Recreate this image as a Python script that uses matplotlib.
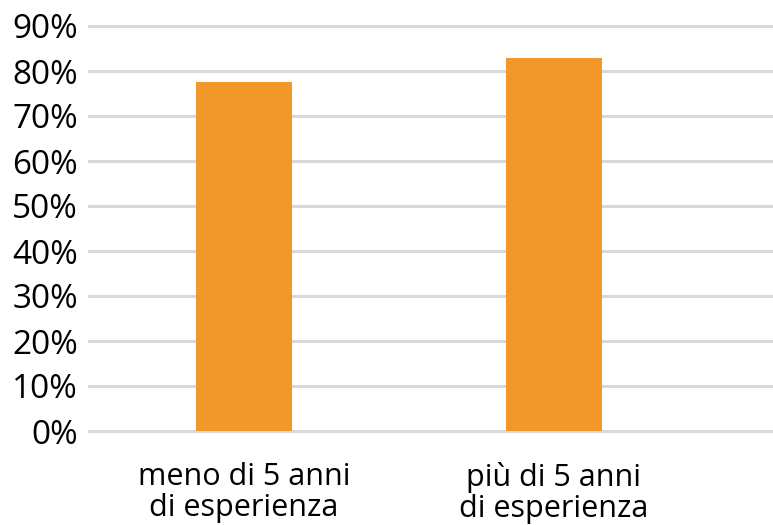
import matplotlib.pyplot as plt
from matplotlib.ticker import PercentFormatter

categories = ["meno di 5 anni\ndi esperienza", "più di 5 anni\ndi esperienza"]
values = [0.775, 0.83]
yticks = [0, 0.1, 0.2, 0.3, 0.4, 0.5, 0.6, 0.7, 0.8, 0.9]

plt.rcParams['font.family'] = ['Open Sans', 'DejaVu Sans']

fig = plt.figure(figsize=(7.73, 5.25), dpi=100)
ax = fig.add_axes([89 / 773, 94 / 525, 684 / 773, 405 / 525])

x = range(len(categories))
ax.bar(x, values, width=0.31, color='#f2982b', zorder=3)

ax.set_ylim(0, 0.9)
ax.set_xlim(-0.5, 1.708)
ax.set_yticks(yticks)
ax.yaxis.set_major_formatter(PercentFormatter(1.0, decimals=0))
ax.set_xticks(list(x))
ax.set_xticklabels(categories, linespacing=1.05)

ax.grid(axis='y', color='#d9d9d9', linewidth=2.2, zorder=0)
for line in ax.get_ygridlines():
    line.set_clip_on(False)
for s in ax.spines.values():
    s.set_visible(False)
ax.tick_params(axis='y', length=0, pad=8, labelsize=24)
ax.tick_params(axis='x', length=0, pad=22, labelsize=22)

fig.savefig('out.png', dpi=100)
